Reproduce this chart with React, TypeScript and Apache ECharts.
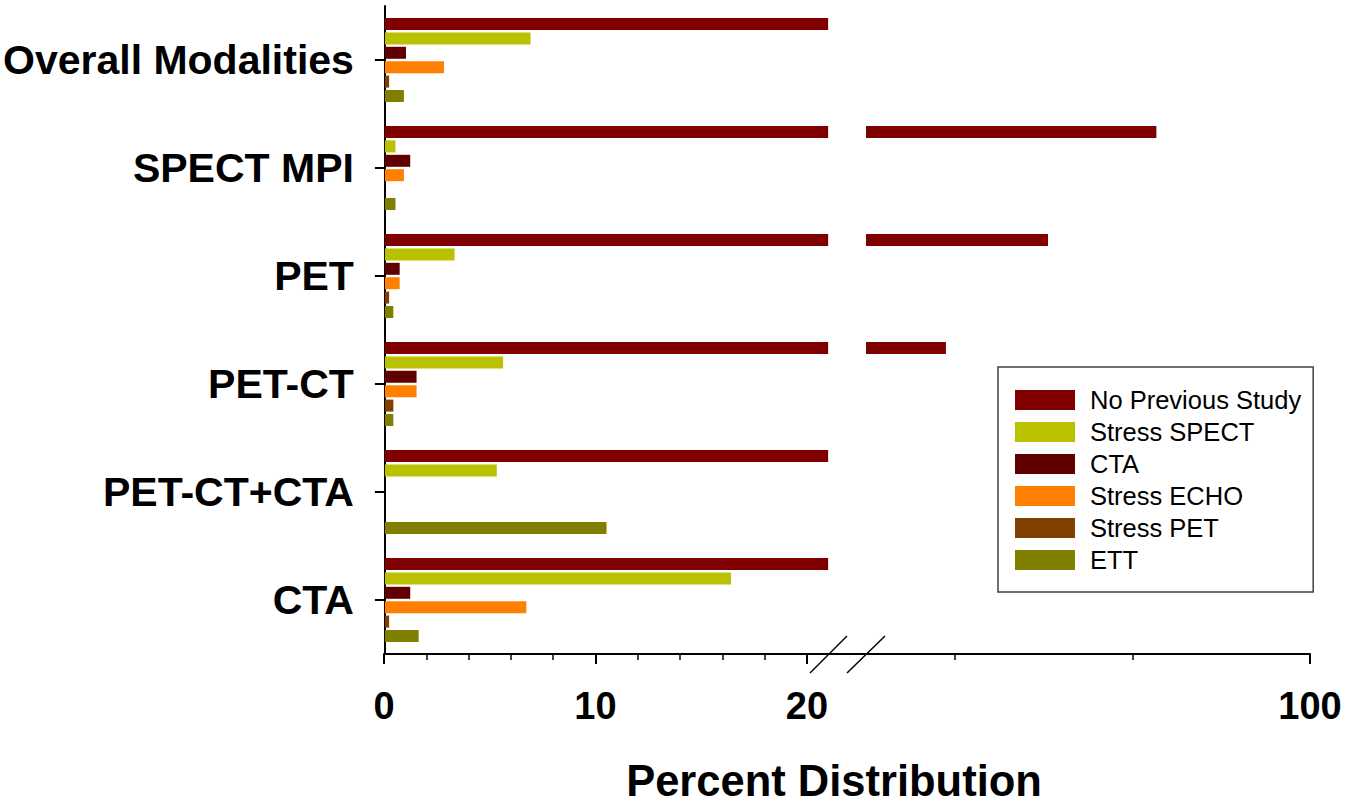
import React, { useEffect, useRef } from "react";
import * as echarts from "echarts";

// ---- data ----
const categories = ["Overall Modalities", "SPECT MPI", "PET", "PET-CT", "PET-CT+CTA", "CTA"];
const seriesNames = ["No Previous Study", "Stress SPECT", "CTA", "Stress ECHO", "Stress PET", "ETT"];
const seriesColors = ["#800000", "#b9c100", "#600000", "#ff8000", "#804000", "#808000"];

const noPreviousStudy = [21, 82.7, 70.5, 59.0, 21, 21];
const stressSpect = [6.9, 0.5, 3.3, 5.6, 5.3, 16.4];
const cta = [1.0, 1.2, 0.7, 1.5, 0, 1.2];
const stressEcho = [2.8, 0.9, 0.7, 1.5, 0, 6.7];
const stressPet = [0.2, 0, 0.2, 0.4, 0, 0.2];
const ett = [0.9, 0.5, 0.4, 0.4, 10.5, 1.6];

const seriesValues = [noPreviousStudy, stressSpect, cta, stressEcho, stressPet, ett];

// broken axis: lower segment 0..21, upper segment 50..100
const lowerMax = 21;
const upperMin = 50;
const upperMax = 100;
const lowerTicks = [0, 10, 20];
const upperMinorTicks = [60, 80];
const upperMajorTicks = [100];

const FONT = "'Liberation Sans', Arial, Helvetica, sans-serif";

export default function App() {
  const ref = useRef<HTMLDivElement>(null);

  useEffect(() => {
    if (!ref.current) return;
    const chart = echarts.init(ref.current, null, { renderer: "svg" });

    const top = 6;
    const height = 648;
    const left = 384;
    const pxPerUnit = 21.15;
    const lowerWidth = lowerMax * pxPerUnit;
    const upperLeft = 866;
    const upperWidth = 444;

    const hiddenAxisParts = {
      axisLine: { show: false },
      axisTick: { show: false },
      axisLabel: { show: false },
      splitLine: { show: false },
    };

    const series: any[] = [];
    seriesNames.forEach((name, i) => {
      series.push({
        type: "bar",
        name,
        xAxisIndex: 0,
        yAxisIndex: 0,
        data: seriesValues[i],
        barWidth: 12,
        barGap: "20%",
        clip: true,
        itemStyle: { color: seriesColors[i] },
      });
    });
    seriesNames.forEach((name, i) => {
      series.push({
        type: "bar",
        name,
        xAxisIndex: 1,
        yAxisIndex: 1,
        data: seriesValues[i].map((v) => (v > upperMin ? v : null)),
        barWidth: 12,
        barGap: "20%",
        clip: true,
        itemStyle: { color: seriesColors[i] },
      });
    });

    chart.setOption({
      animation: false,
      backgroundColor: "#ffffff",
      textStyle: { fontFamily: FONT },
      grid: [
        { left, top, width: lowerWidth, height },
        { left: upperLeft, top, width: upperWidth, height },
        { left, top, width: 20 * pxPerUnit, height },
        { left, top, width: upperLeft + upperWidth - left, height },
      ],
      xAxis: [
        { type: "value", gridIndex: 0, min: 0, max: lowerMax, ...hiddenAxisParts },
        {
          type: "value",
          gridIndex: 1,
          min: upperMin,
          max: upperMax,
          position: "bottom",
          axisLine: { show: false },
          splitLine: { show: false },
          axisTick: { show: true, customValues: upperMinorTicks, length: 6, lineStyle: { color: "#000", width: 1.5 } },
          axisLabel: { show: false },
        },
        {
          type: "value",
          gridIndex: 1,
          min: upperMin,
          max: upperMax,
          position: "bottom",
          axisLine: { show: false },
          splitLine: { show: false },
          axisTick: { show: true, customValues: upperMajorTicks, length: 10, lineStyle: { color: "#000", width: 2 } },
          axisLabel: {
            show: true,
            customValues: upperMajorTicks,
            margin: 33,
            fontSize: 38,
            fontWeight: "bold",
            color: "#000",
            fontFamily: FONT,
          },
        },
        {
          type: "value",
          gridIndex: 2,
          min: 0,
          max: 20,
          interval: 10,
          position: "bottom",
          axisLine: { show: false },
          splitLine: { show: false },
          axisTick: { show: true, length: 10, lineStyle: { color: "#000", width: 2 } },
          minorTick: { show: true, splitNumber: 5, length: 6, lineStyle: { color: "#000", width: 1.5 } },
          axisLabel: {
            show: true,
            margin: 33,
            fontSize: 38,
            fontWeight: "bold",
            color: "#000",
            fontFamily: FONT,
            formatter: (v: number) => (lowerTicks.includes(v) ? String(v) : ""),
          },
        },
        {
          type: "value",
          gridIndex: 3,
          min: 0,
          max: 1,
          position: "bottom",
          axisLine: { show: true, lineStyle: { color: "#000", width: 2 } },
          axisTick: { show: false },
          axisLabel: { show: false },
          splitLine: { show: false },
        },
      ],
      yAxis: [
        {
          type: "category",
          gridIndex: 0,
          data: categories,
          inverse: true,
          axisLine: { show: true, lineStyle: { color: "#000", width: 2 } },
          axisTick: { show: true, alignWithLabel: true, length: 10, lineStyle: { color: "#000", width: 2 } },
          axisLabel: {
            margin: 31,
            fontSize: 41,
            fontWeight: "bold",
            color: "#000",
            fontFamily: FONT,
          },
          splitLine: { show: false },
        },
        { type: "category", gridIndex: 1, data: categories, inverse: true, show: false },
        { type: "category", gridIndex: 2, data: categories, inverse: true, show: false },
        { type: "category", gridIndex: 3, data: categories, inverse: true, show: false },
      ],
      legend: {
        data: seriesNames,
        orient: "vertical",
        left: 998,
        top: 367,
        icon: "rect",
        itemWidth: 60,
        itemHeight: 20,
        itemGap: 6,
        padding: [20, 12, 19, 17],
        borderColor: "#404040",
        borderWidth: 1.5,
        backgroundColor: "#ffffff",
        selectedMode: false,
        textStyle: {
          fontSize: 25.5,
          color: "#000",
          fontFamily: FONT,
          padding: [0, 0, 0, 10],
        },
      },
      graphic: [
        {
          type: "line",
          shape: { x1: 810, y1: 673, x2: 847, y2: 636 },
          style: { stroke: "#000", lineWidth: 1.5 },
          z: 100,
        },
        {
          type: "line",
          shape: { x1: 847, y1: 673, x2: 885, y2: 636 },
          style: { stroke: "#000", lineWidth: 1.5 },
          z: 100,
        },
        {
          type: "text",
          x: 834,
          y: 781,
          style: {
            text: "Percent Distribution",
            fill: "#000",
            font: `bold 43.5px ${FONT}`,
            textAlign: "center",
            textVerticalAlign: "middle",
          },
        },
      ],
      series,
    });

    return () => chart.dispose();
  }, []);

  return (
    <div
      ref={ref}
      style={{ position: "fixed", left: 0, top: 0, width: 1346, height: 809 }}
    />
  );
}
